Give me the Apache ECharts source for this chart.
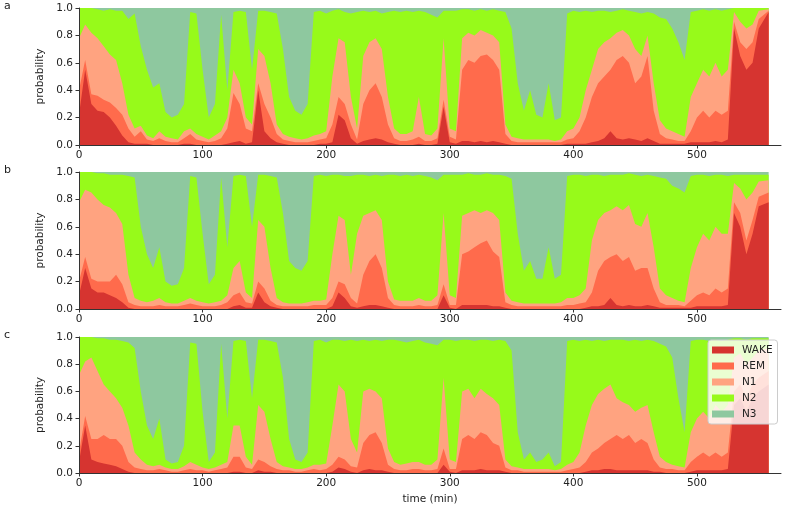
<!DOCTYPE html>
<html>
<head>
<meta charset="utf-8">
<script src="https://cdn.jsdelivr.net/npm/echarts@6/dist/echarts.min.js"></script>
<style>
html,body{margin:0;padding:0;background:#fff;}
#chart{width:789px;height:510px;}
</style>
</head>
<body>
<div id="chart"></div>
<script>
// time axis (minutes)
const minutes = [0,5,10,15,20,25,30,35,40,45,50,55,60,65,70,75,80,85,90,95,
100,105,110,115,120,125,130,135,140,145,150,155,160,165,170,175,180,185,190,195,
200,205,210,215,220,225,230,235,240,245,250,255,260,265,270,275,280,285,290,295,
300,305,310,315,320,325,330,335,340,345,350,355,360,365,370,375,380,385,390,395,
400,405,410,415,420,425,430,435,440,445,450,455,460,465,470,475,480,485,490,495,
500,505,510,515,520,525,530,535,540,545,550,558];
const stages = ['WAKE','REM','N1','N2','N3'];
const xTicks = [0,100,200,300,400,500];
const panelLabels = ['a','b','c'];

// cumulative upper boundaries (WAKE, WAKE+REM, +N1, +N2; N3 fills up to 1)
const aWakeTop = [0.22,0.55,0.30,0.25,0.24,0.20,0.14,0.07,0.02,0.01,0.01,0.01,0.00,0.00,0.00,0.00,0.00,0.01,0.01,0.00,0.00,0.00,0.00,0.00,0.01,0.02,0.03,0.01,0.02,
0.40,0.10,0.05,0.02,0.01,0.00,0.00,0.00,0.00,0.00,0.01,0.01,0.02,0.22,0.18,0.05,0.01,0.03,0.04,0.05,0.04,0.02,0.01,0.00,0.00,0.00,0.01,0.00,0.00,
0.01,0.28,0.02,0.01,0.03,0.03,0.02,0.03,0.02,0.03,0.02,0.01,0.00,0.00,0.00,0.00,0.00,0.00,0.00,0.00,0.00,0.01,0.01,0.01,0.01,0.02,0.03,0.05,0.10,
0.05,0.04,0.05,0.04,0.03,0.05,0.03,0.01,0.01,0.01,0.01,0.01,0.02,0.02,0.02,0.02,0.03,0.02,0.04,0.85,0.65,0.55,0.60,0.85,0.97];
const aRemTop = [0.40,0.62,0.37,0.36,0.33,0.31,0.27,0.22,0.12,0.06,0.10,0.04,0.03,0.05,0.03,0.02,0.02,0.05,0.08,0.04,0.03,0.02,0.03,0.05,0.12,0.38,0.30,0.12,0.10,
0.45,0.30,0.20,0.08,0.04,0.03,0.02,0.02,0.02,0.03,0.04,0.05,0.15,0.35,0.30,0.15,0.04,0.30,0.40,0.45,0.35,0.15,0.05,0.03,0.03,0.04,0.06,0.03,0.03,
0.05,0.33,0.06,0.04,0.55,0.62,0.60,0.65,0.66,0.62,0.55,0.08,0.03,0.02,0.02,0.02,0.02,0.02,0.02,0.02,0.02,0.04,0.05,0.10,0.20,0.35,0.45,0.50,0.55,
0.62,0.65,0.60,0.45,0.50,0.65,0.25,0.08,0.05,0.04,0.03,0.03,0.10,0.20,0.25,0.20,0.25,0.22,0.25,0.90,0.75,0.70,0.75,0.92,0.98];
const aN1Top = [0.78,0.88,0.82,0.78,0.72,0.66,0.62,0.45,0.22,0.12,0.14,0.07,0.05,0.10,0.06,0.05,0.04,0.10,0.12,0.08,0.06,0.04,0.07,0.10,0.20,0.55,0.45,0.20,0.15,
0.70,0.65,0.45,0.15,0.08,0.06,0.05,0.04,0.05,0.07,0.08,0.10,0.50,0.78,0.75,0.35,0.12,0.65,0.75,0.78,0.70,0.35,0.12,0.08,0.08,0.10,0.35,0.08,0.07,
0.12,0.78,0.12,0.10,0.78,0.82,0.80,0.84,0.82,0.80,0.75,0.15,0.06,0.05,0.04,0.04,0.04,0.04,0.04,0.03,0.04,0.10,0.12,0.20,0.40,0.55,0.70,0.75,0.78,
0.82,0.84,0.80,0.70,0.65,0.80,0.45,0.18,0.12,0.10,0.08,0.06,0.35,0.45,0.55,0.50,0.60,0.50,0.55,0.97,0.90,0.85,0.88,0.98,0.99];
const aN2Top = [1.0,1.0,1.0,0.99,0.98,0.99,0.98,0.98,0.92,0.96,0.72,0.55,0.42,0.45,0.24,0.20,0.22,0.30,0.97,0.96,0.55,0.20,0.30,0.95,0.40,0.97,0.98,0.97,0.55,
0.98,0.98,0.97,0.96,0.70,0.35,0.25,0.22,0.30,0.97,0.98,0.96,0.98,0.99,0.97,0.96,0.97,0.98,0.97,0.98,0.96,0.97,0.98,0.97,0.98,0.97,0.98,0.97,0.95,
0.93,0.98,0.98,0.98,0.99,0.99,0.98,0.99,0.98,0.99,0.98,0.97,0.85,0.45,0.25,0.40,0.22,0.20,0.45,0.18,0.20,0.96,0.98,0.97,0.98,0.97,0.98,0.98,0.97,
0.98,0.99,0.98,0.97,0.96,0.97,0.96,0.93,0.92,0.85,0.75,0.62,0.97,0.98,0.99,0.98,0.99,0.98,0.99,1.0,1.0,1.0,1.0,1.0,1.0];

const bWakeTop = [0.10,0.30,0.15,0.12,0.12,0.10,0.08,0.05,0.01,0,0,0,0,0,0,0,0,0,0,0,0,0,0,0,0,0.02,0.03,0.01,0.01,
0.12,0.05,0.02,0.01,0,0,0,0,0,0,0,0,0.02,0.12,0.08,0.02,0.01,0.02,0.03,0.03,0.02,0.01,0,0,0,0,0,0,0,
0,0.10,0.01,0,0.03,0.03,0.03,0.03,0.03,0.02,0.02,0.01,0,0,0,0,0,0,0,0,0,0,0,0,0.01,0.02,0.02,0.03,0.08,
0.03,0.02,0.03,0.02,0.02,0.03,0.02,0.01,0.01,0.01,0.01,0.01,0.01,0.02,0.02,0.02,0.02,0.02,0.03,0.70,0.60,0.40,0.55,0.75,0.78];
const bRemTop = [0.20,0.38,0.22,0.20,0.20,0.20,0.25,0.18,0.05,0.03,0.02,0.02,0.02,0.03,0.02,0.02,0.02,0.03,0.04,0.03,0.02,0.02,0.02,0.03,0.05,0.10,0.12,0.05,0.04,
0.20,0.15,0.06,0.03,0.02,0.02,0.02,0.02,0.02,0.03,0.03,0.03,0.08,0.20,0.18,0.08,0.04,0.25,0.35,0.40,0.30,0.08,0.03,0.02,0.02,0.02,0.03,0.02,0.02,
0.03,0.18,0.03,0.03,0.40,0.42,0.45,0.48,0.50,0.42,0.38,0.05,0.03,0.02,0.02,0.02,0.02,0.02,0.02,0.02,0.02,0.03,0.03,0.04,0.05,0.12,0.28,0.35,0.38,
0.40,0.35,0.38,0.28,0.30,0.30,0.15,0.05,0.03,0.03,0.03,0.02,0.06,0.10,0.12,0.10,0.15,0.12,0.15,0.78,0.70,0.50,0.65,0.82,0.85];
const bN1Top = [0.78,0.87,0.85,0.80,0.76,0.74,0.70,0.62,0.25,0.08,0.06,0.05,0.06,0.08,0.05,0.04,0.04,0.06,0.08,0.06,0.05,0.04,0.05,0.06,0.10,0.30,0.35,0.12,0.08,
0.65,0.60,0.30,0.08,0.05,0.04,0.04,0.04,0.05,0.06,0.06,0.07,0.40,0.68,0.65,0.25,0.55,0.68,0.70,0.72,0.65,0.20,0.07,0.06,0.06,0.06,0.08,0.06,0.06,
0.10,0.70,0.10,0.08,0.68,0.70,0.72,0.70,0.72,0.70,0.65,0.12,0.06,0.05,0.04,0.04,0.04,0.04,0.04,0.04,0.05,0.08,0.08,0.10,0.15,0.50,0.65,0.70,0.72,
0.75,0.72,0.76,0.62,0.60,0.70,0.45,0.15,0.10,0.08,0.06,0.05,0.30,0.45,0.55,0.50,0.60,0.55,0.55,0.92,0.88,0.80,0.85,0.93,0.94];
const bN2Top = [1.0,1.0,1.0,0.99,0.99,0.98,0.98,0.98,0.97,0.96,0.60,0.40,0.30,0.45,0.20,0.17,0.18,0.30,0.97,0.96,0.55,0.18,0.25,0.96,0.45,0.97,0.98,0.97,0.60,
0.98,0.98,0.97,0.96,0.70,0.35,0.30,0.28,0.35,0.97,0.98,0.97,0.98,0.98,0.97,0.97,0.98,0.98,0.97,0.98,0.97,0.98,0.98,0.97,0.98,0.97,0.98,0.97,0.96,
0.94,0.98,0.98,0.98,0.98,0.99,0.98,0.98,0.99,0.98,0.98,0.97,0.95,0.55,0.28,0.35,0.22,0.22,0.45,0.22,0.25,0.97,0.98,0.98,0.97,0.98,0.98,0.97,0.98,
0.98,0.98,0.99,0.98,0.97,0.98,0.97,0.96,0.95,0.90,0.88,0.85,0.97,0.98,0.98,0.97,0.98,0.98,0.97,0.98,0.98,0.98,0.98,0.98,0.98];

const cWakeTop = [0.08,0.35,0.10,0.08,0.07,0.06,0.05,0.03,0.01,0,0,0,0,0,0,0,0,0,0,0,0,0,0,0,0,0.01,0.01,0,0,
0.02,0.01,0.01,0,0,0,0,0,0,0,0,0,0.01,0.04,0.03,0.01,0,0.02,0.03,0.02,0.02,0.01,0,0,0,0,0,0,0,
0,0.06,0.01,0,0.02,0.02,0.02,0.03,0.02,0.02,0.02,0.01,0,0,0,0,0,0,0,0,0,0,0,0,0.01,0.02,0.02,0.03,0.03,
0.02,0.02,0.02,0.02,0.02,0.02,0.01,0.01,0,0,0,0,0.01,0.02,0.02,0.02,0.02,0.02,0.03,0.50,0.55,0.45,0.55,0.60,0.65];
const cRemTop = [0.15,0.42,0.25,0.25,0.28,0.25,0.25,0.20,0.08,0.04,0.03,0.02,0.02,0.03,0.02,0.01,0.01,0.02,0.03,0.02,0.02,0.01,0.02,0.03,0.04,0.12,0.12,0.04,0.03,
0.10,0.08,0.05,0.03,0.02,0.02,0.01,0.01,0.02,0.03,0.02,0.03,0.06,0.12,0.10,0.05,0.04,0.22,0.28,0.30,0.22,0.06,0.03,0.02,0.02,0.03,0.03,0.02,0.02,
0.03,0.18,0.03,0.03,0.25,0.28,0.25,0.30,0.28,0.22,0.20,0.04,0.02,0.02,0.01,0.01,0.01,0.01,0.01,0.01,0.01,0.02,0.03,0.04,0.08,0.15,0.18,0.22,0.25,
0.28,0.25,0.28,0.22,0.25,0.22,0.10,0.04,0.03,0.03,0.02,0.02,0.08,0.12,0.15,0.12,0.15,0.12,0.15,0.60,0.65,0.55,0.65,0.70,0.75];
const cN1Top = [0.72,0.82,0.85,0.75,0.65,0.60,0.55,0.48,0.35,0.15,0.10,0.06,0.05,0.06,0.04,0.03,0.03,0.05,0.08,0.06,0.04,0.03,0.04,0.06,0.08,0.35,0.35,0.12,0.06,
0.50,0.45,0.25,0.08,0.05,0.04,0.03,0.03,0.04,0.06,0.06,0.07,0.35,0.65,0.60,0.25,0.15,0.60,0.62,0.60,0.55,0.18,0.08,0.06,0.07,0.08,0.08,0.06,0.06,
0.10,0.70,0.10,0.08,0.60,0.62,0.55,0.62,0.58,0.55,0.50,0.10,0.05,0.04,0.03,0.03,0.03,0.03,0.03,0.02,0.03,0.06,0.08,0.15,0.35,0.50,0.58,0.62,0.65,
0.55,0.52,0.50,0.45,0.48,0.50,0.30,0.12,0.08,0.06,0.05,0.04,0.30,0.40,0.45,0.40,0.50,0.45,0.50,0.85,0.88,0.80,0.85,0.90,0.92];
const cN2Top = [1.0,1.0,1.0,0.99,0.99,0.98,0.98,0.97,0.96,0.92,0.60,0.35,0.25,0.40,0.10,0.07,0.08,0.20,0.96,0.95,0.45,0.08,0.15,0.95,0.40,0.97,0.98,0.97,0.55,
0.98,0.98,0.97,0.96,0.70,0.25,0.10,0.08,0.15,0.97,0.98,0.96,0.98,0.98,0.97,0.98,0.97,0.98,0.97,0.98,0.97,0.98,0.98,0.97,0.96,0.97,0.98,0.96,0.95,
0.94,0.98,0.98,0.97,0.98,0.98,0.97,0.98,0.98,0.97,0.98,0.97,0.90,0.30,0.10,0.15,0.08,0.10,0.15,0.05,0.08,0.97,0.98,0.97,0.98,0.97,0.98,0.97,0.98,
0.98,0.98,0.97,0.98,0.97,0.98,0.97,0.95,0.93,0.85,0.55,0.30,0.97,0.98,0.98,0.97,0.98,0.97,0.98,0.99,0.99,0.98,0.99,0.99,0.99];

const colors = ['#d63430','#ff6b4c','#ffa380','#97fa1a','#8ec89f'];
const panels = [
  [aWakeTop,aRemTop,aN1Top,aN2Top],
  [bWakeTop,bRemTop,bN1Top,bN2Top],
  [cWakeTop,cRemTop,cN1Top,cN2Top]
];
const gridTops = [8,172,337];
const gridHeights = [137,137,136];
const font = 'DejaVu Sans';
const txt = '#222';

const grids = [], xAxes = [], yAxes = [], series = [], graphics = [];
let bad = [];
panels.forEach((p, pi) => {
  p.forEach((arr, k) => { if (arr.length !== minutes.length) bad.push(panelLabels[pi] + k + ':' + arr.length); });
  grids.push({left:79, right:8, top:gridTops[pi], height:gridHeights[pi]});
  xAxes.push({
    type:'value', gridIndex:pi, min:0, max:568, z:10,
    axisLine:{show:true, onZero:false, lineStyle:{color:'#333', width:1}},
    axisTick:{show:true, length:3.5, lineStyle:{color:'#333'}, customValues:xTicks},
    axisLabel:{color:txt, fontFamily:font, fontSize:10.5, margin:5, customValues:xTicks},
    splitLine:{show:false},
    name: pi === 2 ? 'time (min)' : '', nameLocation:'middle', nameGap:21,
    nameTextStyle:{color:txt, fontFamily:font, fontSize:10.5}
  });
  yAxes.push({
    type:'value', gridIndex:pi, min:0, max:1, interval:0.2, z:10,
    axisLine:{show:true, lineStyle:{color:'#333', width:1}},
    axisTick:{show:true, length:3.5, lineStyle:{color:'#333'}},
    axisLabel:{color:txt, fontFamily:font, fontSize:10.5, margin:6, formatter:v => v.toFixed(1)},
    splitLine:{show:false},
    name:'probability', nameLocation:'middle', nameGap:26,
    nameTextStyle:{color:txt, fontFamily:font, fontSize:10.5}
  });
  // cumulative tops; N3 is the remainder up to 1
  const tops = [p[0], p[1], p[2], p[3], minutes.map(() => 1)];
  // draw from the top boundary (N3) down to WAKE so lower bands overlay upper ones
  for (let si = stages.length - 1; si >= 0; si--) {
    series.push({
      name: stages[si], type:'line', xAxisIndex:pi, yAxisIndex:pi,
      data: minutes.map((t, i) => [t, tops[si][i]]),
      showSymbol:false, symbol:'none', silent:true, animation:false,
      lineStyle:{width:0, opacity:0},
      itemStyle:{color:colors[si]},
      areaStyle:{color:colors[si], opacity:1, origin:'start'},
      z: 2 + (stages.length - si) * 0.01
    });
  }
  graphics.push({type:'text', left:4, top:gridTops[pi]-7,
    style:{text:panelLabels[pi], fill:txt, font:'11px "DejaVu Sans"'}});
});
if (bad.length) graphics.push({type:'text', left:300, top:200, style:{text:'BAD '+bad.join(' '), fill:'#000', font:'20px sans-serif'}});

const chart = echarts.init(document.getElementById('chart'), null, {renderer:'canvas'});
chart.setOption({
  animation:false,
  backgroundColor:'#fff',
  grid:grids, xAxis:xAxes, yAxis:yAxes, series:series, graphic:graphics,
  legend:{
    show:true, orient:'vertical', left:708, top:340,
    data: stages.map((s, i) => ({name:s, icon:'rect', itemStyle:{color:colors[i]}})),
    itemWidth:22, itemHeight:7, itemGap:4,
    textStyle:{color:txt, fontFamily:font, fontSize:10.5, lineHeight:12, padding:[0,0,0,3]},
    backgroundColor:'rgba(255,255,255,0.8)', borderColor:'#cccccc', borderWidth:1, borderRadius:3,
    padding:[4,5,4,4], selectedMode:false
  }
});
</script>
</body>
</html>
